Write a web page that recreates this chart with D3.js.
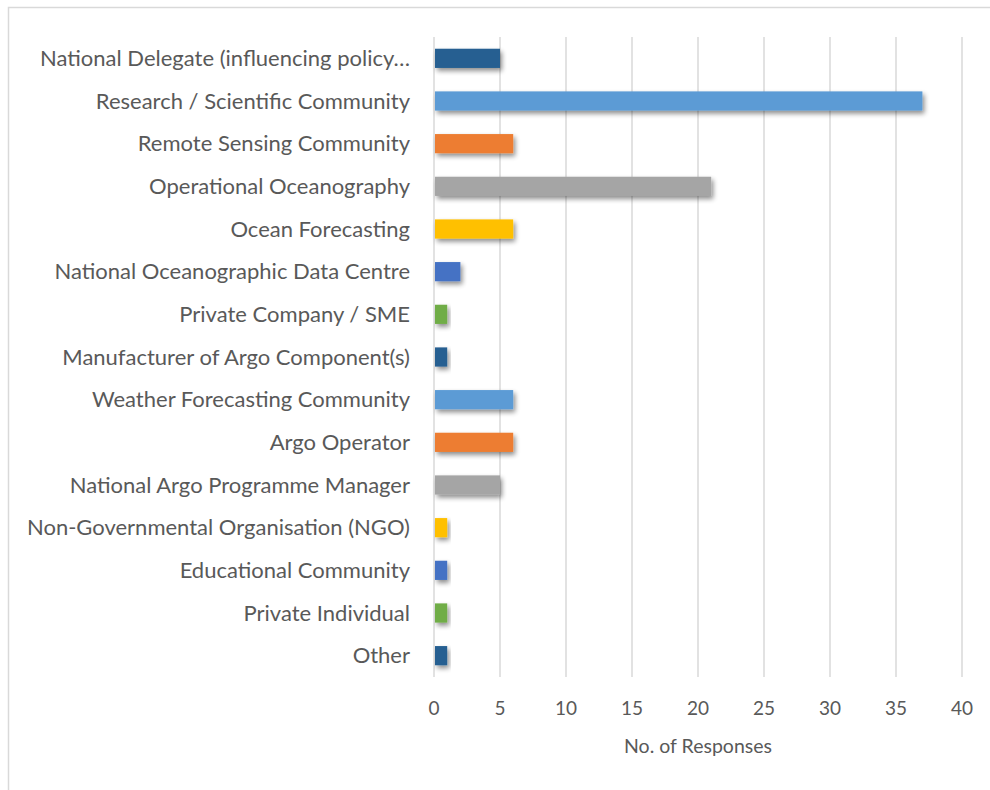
<!DOCTYPE html>
<html><head><meta charset="utf-8">
<script src="https://cdn.jsdelivr.net/npm/d3@7"></script>
<style>body{margin:0;background:#fff;}svg{display:block;}</style>
</head><body>
<script>
const categories = ["National Delegate (influencing policy…","Research / Scientific Community","Remote Sensing Community","Operational Oceanography","Ocean Forecasting","National Oceanographic Data Centre","Private Company / SME","Manufacturer of Argo Component(s)","Weather Forecasting Community","Argo Operator","National Argo Programme Manager","Non-Governmental Organisation (NGO)","Educational Community","Private Individual","Other"];
const values = [5,37,6,21,6,2,1,1,6,6,5,1,1,1,1];
const barColors = ["#255E91","#5B9BD5","#ED7D31","#A5A5A5","#FFC000","#4472C4","#70AD47","#255E91","#5B9BD5","#ED7D31","#A5A5A5","#FFC000","#4472C4","#70AD47","#255E91"];
const xTicks = [0,5,10,15,20,25,30,35,40];
const xTitle = "No. of Responses";

const W=990,H=790;
const svg=d3.select("body").append("svg").attr("width",W).attr("height",H);
const font="Lato, 'Open Sans', sans-serif";
svg.append("rect").attr("x",8.5).attr("y",7.5).attr("width",W+10).attr("height",H+10).attr("fill","#fff").attr("stroke","#d9d9d9").attr("stroke-width",1.5);

const defs=svg.append("defs");
const f=defs.append("filter").attr("id","sh").attr("x","-20%").attr("y","-50%").attr("width","150%").attr("height","250%");
f.append("feGaussianBlur").attr("in","SourceAlpha").attr("stdDeviation",2.5).attr("result","b");
f.append("feOffset").attr("in","b").attr("dx",2).attr("dy",3).attr("result","o");
f.append("feComponentTransfer").attr("in","o").attr("result","o2").append("feFuncA").attr("type","linear").attr("slope",0.45);
const m=f.append("feMerge");m.append("feMergeNode").attr("in","o2");m.append("feMergeNode").attr("in","SourceGraphic");

const x=d3.scaleLinear().domain([0,40]).range([434,962]);
const y=d3.scaleBand().domain(categories).range([37,677]).paddingInner(0.55).paddingOuter(0.275);

svg.append("g").selectAll("line").data(xTicks).join("line")
 .attr("x1",d=>x(d)).attr("x2",d=>x(d)).attr("y1",37).attr("y2",677)
 .attr("stroke","#d9d9d9").attr("stroke-width",1.5);

svg.append("g").selectAll("rect").data(categories).join("rect")
 .attr("x",x(0)+1).attr("y",d=>y(d)).attr("width",(d,i)=>x(values[i])-x(0)-1).attr("height",y.bandwidth())
 .attr("fill",(d,i)=>barColors[i]).attr("filter","url(#sh)");

svg.append("g").selectAll("text").data(categories).join("text")
 .attr("x",410).attr("y",d=>y(d)+y.bandwidth()/2).attr("dy","0.35em").attr("text-anchor","end")
 .attr("font-family",font).attr("font-size",22).attr("fill","#595959").text(d=>d);

svg.append("g").selectAll("text").data(xTicks).join("text")
 .attr("x",d=>x(d)).attr("y",708).attr("dy","0.35em").attr("text-anchor","middle")
 .attr("font-family",font).attr("font-size",19).attr("fill","#595959").text(d=>d);

svg.append("text").attr("x",698).attr("y",746).attr("dy","0.35em").attr("text-anchor","middle")
 .attr("font-family",font).attr("font-size",19.5).attr("fill","#595959").text(xTitle);
</script>
</body></html>
